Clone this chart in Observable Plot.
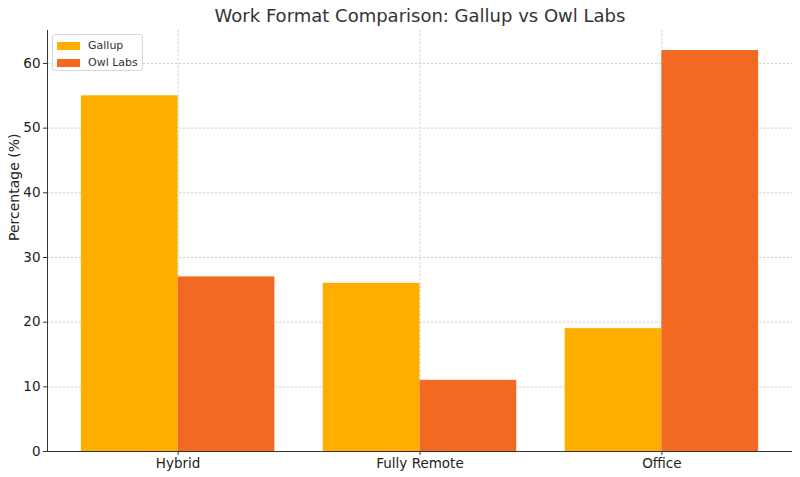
<!DOCTYPE html>
<html>
<head>
<meta charset="utf-8">
<script src="https://cdn.jsdelivr.net/npm/d3@7"></script>
<script src="https://cdn.jsdelivr.net/npm/@observablehq/plot@0.6"></script>
<style>
  html, body { margin: 0; padding: 0; background: #fff; }
  #wrap { position: relative; width: 800px; height: 477px; font-family: "DejaVu Sans", sans-serif; }
  #legend { position: absolute; left: 52px; top: 34px; width: 91px; height: 37px; border: 1px solid #d8d8d8; border-radius: 3px; background: rgba(255,255,255,0.85); font-size: 11px; color: #333; box-sizing: border-box; padding: 2px 0 0 4px; }
  .item { display: flex; align-items: center; height: 17px; }
  .sw { width: 23px; height: 8px; margin-right: 8px; }
</style>
</head>
<body>
<div id="wrap"></div>
<script>
const title = "Work Format Comparison: Gallup vs Owl Labs";
const yLabel = "Percentage (%)";
const categories = ["Hybrid", "Fully Remote", "Office"];
const seriesNames = ["Gallup", "Owl Labs"];
const gallup = [55, 26, 19];
const owlLabs = [27, 11, 62];
const colors = ["#FFAE00", "#F26A22"];
const yTicks = [0, 10, 20, 30, 40, 50, 60];

const seriesValues = [gallup, owlLabs];
const barWidth = 0.4;
const rows = [];
categories.forEach((c, i) => {
  seriesValues.forEach((vals, s) => {
    const x1 = i - barWidth + s * barWidth;
    rows.push({category: c, series: seriesNames[s], x1, x2: x1 + barWidth, value: vals[i]});
  });
});
const catIdx = categories.map((c, i) => i);

const plot = Plot.plot({
  width: 800,
  height: 477,
  marginTop: 30,
  marginBottom: 26,
  marginLeft: 47,
  marginRight: 8,
  style: { fontFamily: "DejaVu Sans, sans-serif", fontSize: "13.5px", color: "#222", background: "#fff" },
  x: { domain: [-0.54, categories.length - 1 + 0.54], label: null },
  y: { domain: [0, 65.1], label: null },
  color: { domain: seriesNames, range: colors },
  marks: [
    Plot.gridY(yTicks, { stroke: "#c8c8c8", strokeOpacity: 1, strokeDasharray: "2.5,1.5", strokeWidth: 0.8 }),
    Plot.gridX(catIdx, { stroke: "#c8c8c8", strokeOpacity: 1, strokeDasharray: "2.5,1.5", strokeWidth: 0.8 }),
    Plot.rectY(rows, { x1: "x1", x2: "x2", y1: 0, y2: "value", fill: "series" }),
    Plot.axisY(yTicks, { tickSize: 4, tickPadding: 3, stroke: "#333", fill: "#222", fontSize: 13.5, label: null }),
    Plot.axisX(catIdx, { tickSize: 4, tickPadding: 3, stroke: "#333", fill: "#222", tickFormat: i => categories[i], fontSize: 13.5, label: null }),
    Plot.ruleX([-0.54], { stroke: "#333", strokeWidth: 1 }),
    Plot.ruleY([0], { stroke: "#333", strokeWidth: 1 }),
    Plot.text([title], { frameAnchor: "top", dy: -14, fontSize: 18, fill: "#333", lineAnchor: "middle" }),
    Plot.text([yLabel], { frameAnchor: "left", dx: -33, rotate: -90, fontSize: 14, fill: "#222" })
  ]
});

const wrap = document.getElementById("wrap");
wrap.appendChild(plot);
const legend = document.createElement("div");
legend.id = "legend";
seriesNames.forEach((name, i) => {
  const item = document.createElement("div");
  item.className = "item";
  const sw = document.createElement("span");
  sw.className = "sw";
  sw.style.background = colors[i];
  const label = document.createElement("span");
  label.textContent = name;
  item.appendChild(sw);
  item.appendChild(label);
  legend.appendChild(item);
});
wrap.appendChild(legend);
</script>
</body>
</html>
